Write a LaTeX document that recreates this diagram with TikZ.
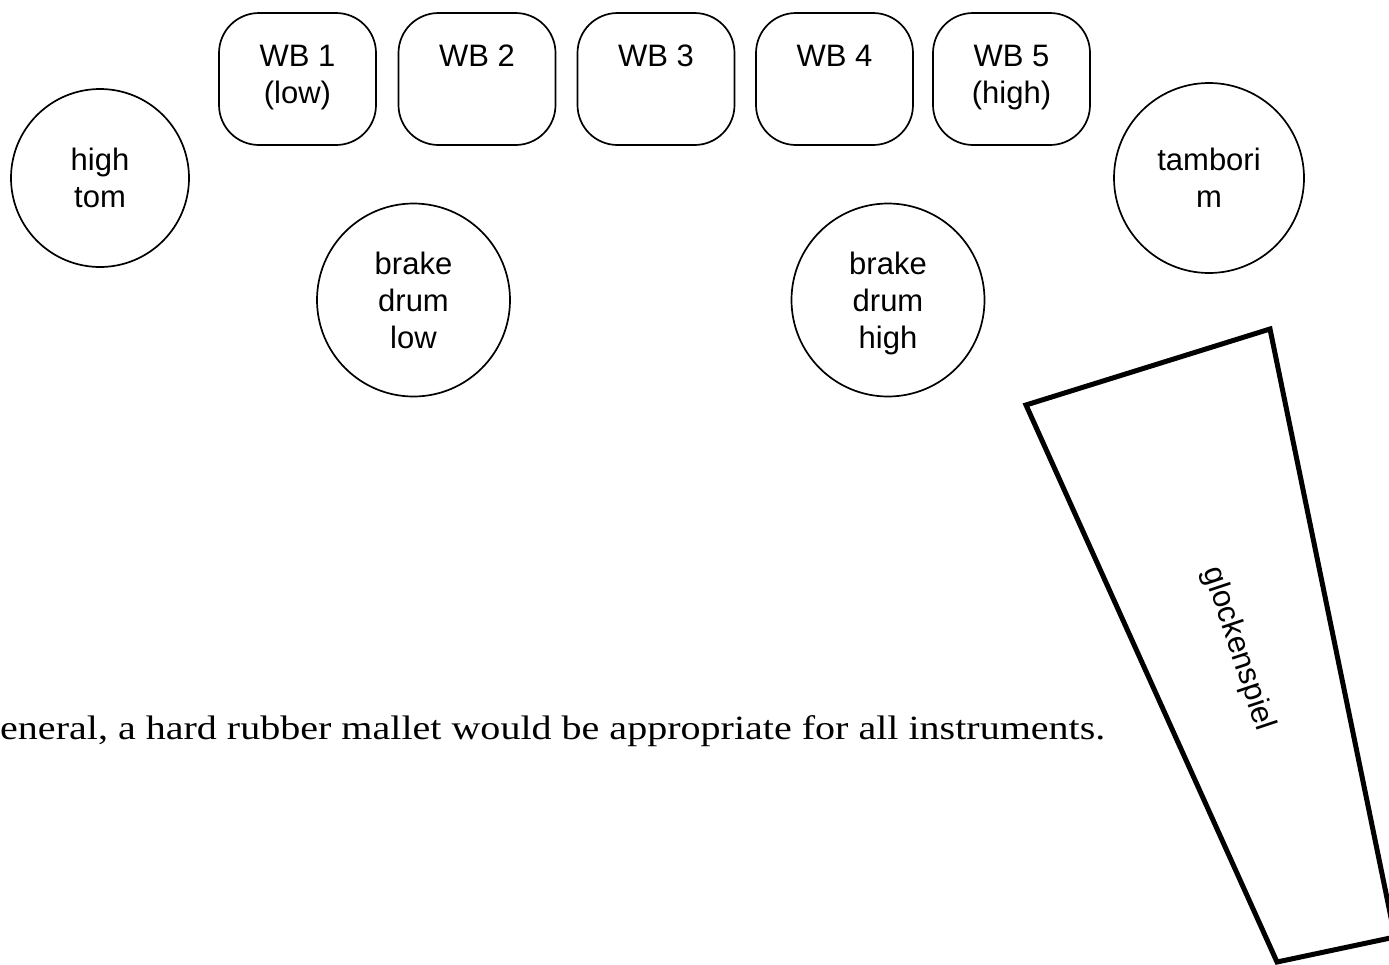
\documentclass[tikz,border=0pt]{standalone}
\usepackage{fontspec}
\usepackage{graphicx}
\setmainfont{Liberation Sans}
\newfontfamily\serifbody{Liberation Serif}
\newcommand\wblabel[1]{\parbox[c][76pt][t]{150pt}{\centering\strut #1}}
\begin{document}
\begin{tikzpicture}[x=1pt,y=-1pt,
  lbl/.style={font=\fontsize{31}{37}\selectfont},
  drum/.style={circle, draw, line width=1.7pt, minimum size=#1, inner sep=0pt, align=center, text depth=0pt, lbl},
  wb/.style={rectangle, rounded corners=40pt, draw, line width=1.7pt, minimum width=157pt, minimum height=132pt, inner sep=0pt, lbl},
  glock/.style={line width=5pt},
]
\useasboundingbox (0,0) rectangle (1389,964);
\fill[white] (0,0) rectangle (1389,964);

% wood blocks
\node[wb] (wb1) at (297.5,79) {\wblabel{WB 1\\(low)}};
\node[wb] (wb2) at (477,79) {\wblabel{WB 2}};
\node[wb] (wb3) at (656,79) {\wblabel{WB 3}};
\node[wb] (wb4) at (834.5,79) {\wblabel{WB 4}};
\node[wb] (wb5) at (1011.5,79) {\wblabel{WB 5\\(high)}};

% drums
\node[drum=178pt] (hightom) at (100,178) {high\\tom};
\node[drum=193pt] (bdlow) at (413.5,300) {brake\\drum\\low};
\node[drum=193pt] (bdhigh) at (888,300) {brake\\drum\\high};
\node[drum=190pt] (tamborim) at (1209,178) {tambori\\m};

% note text
\node[anchor=base west, inner sep=0pt] (note) at (0,739)
  {\resizebox{1105pt}{\height}{\serifbody\fontsize{34}{40}\selectfont eneral, a hard rubber mallet would be appropriate for all instruments.}};

% glockenspiel
\begin{scope}
\clip (0,0) rectangle (1389,964);
\draw[glock] (1026,405) coordinate (g1) -- (1270,329) coordinate (g2)
  -- (1395,937) coordinate (g3) -- (1277,962) coordinate (g4) -- cycle;
\node[lbl, rotate=-71.5, inner sep=0pt] (glocklabel) at (1238,649) {glockenspiel};
\end{scope}
\end{tikzpicture}
\end{document}
